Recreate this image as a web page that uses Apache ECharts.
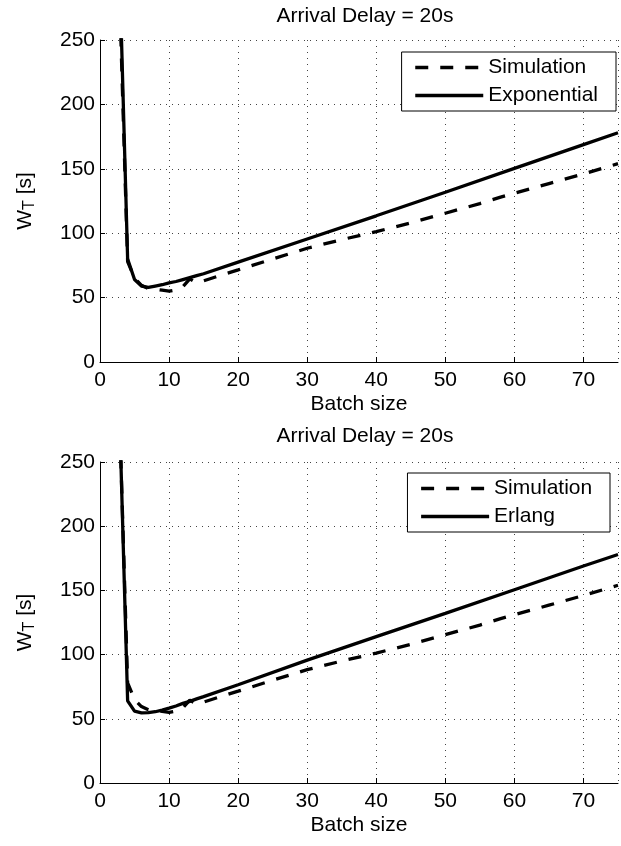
<!DOCTYPE html>
<html>
<head>
<meta charset="utf-8">
<script src="https://cdn.jsdelivr.net/npm/echarts@6/dist/echarts.min.js"></script>
<style>
  html, body { margin: 0; padding: 0; background: #fff; }
  #chart { width: 621px; height: 846px; }
</style>
</head>
<body>
<div id="chart"></div>
<script>
// simulation (same run shown in both panels)
var simBatch = [3, 4, 5, 6, 7, 8, 9, 10, 11, 12, 13, 14, 15, 17, 20, 25, 30, 35, 40, 45, 50, 55, 58, 60, 65, 70, 75];
var simValues = [255, 78, 65, 59.5, 57, 56.5, 55.8, 55, 56, 58.5, 64.5, 61.5, 63, 66.5, 71.5, 80, 88.3, 95, 101.2, 108, 115.5, 123, 128, 131, 138.5, 146, 154];

// exponential model (top)
var expBatch = [3, 4, 5, 6, 7, 8, 9, 10, 11, 12, 13, 14, 15, 20, 30, 40, 50, 60, 70, 75];
var expValues = [272, 80, 64, 59, 58, 59, 60, 61.5, 62.5, 64, 65.5, 67, 68.5, 77.5, 95.5, 113.5, 131.8, 150.3, 168.8, 178];

// erlang model (bottom)
var erlBatch = [3, 4, 5, 6, 7, 8, 9, 10, 11, 12, 13, 14, 15, 20, 30, 40, 50, 60, 70, 75];
var erlValues = [255, 64, 56, 54.6, 54.8, 55.5, 56.8, 58.3, 60, 62, 63.6, 65.5, 67.3, 76.5, 95.7, 114, 132.1, 150.5, 169, 178];

var xTicks = { min: 0, max: 75, interval: 10 };
var yTicks = { min: 0, max: 250, interval: 50 };
var titleText = 'Arrival Delay = 20s';
var xName = 'Batch size';

function pairs(xs, ys) {
  return xs.map(function (x, i) { return [x, ys[i]]; });
}

var font = "'Liberation Sans', Arial, sans-serif";
var fs = 21;
var gridLine = { show: true, lineStyle: { color: '#444', width: 1, type: [1, 5] } };

function xAxis(idx) {
  return {
    type: 'value', gridIndex: idx,
    min: xTicks.min, max: xTicks.max, interval: xTicks.interval,
    name: xName, nameLocation: 'middle', nameGap: 32,
    nameTextStyle: { color: '#000', fontSize: fs, fontFamily: font },
    axisLine: { show: true, onZero: false, lineStyle: { color: '#000', width: 1 } },
    axisTick: { show: true, inside: true, length: 5, lineStyle: { color: '#000' } },
    axisLabel: { color: '#000', fontSize: fs, fontFamily: font, margin: 8, showMaxLabel: false },
    splitLine: gridLine
  };
}

function yAxis(idx) {
  return {
    type: 'value', gridIndex: idx,
    min: yTicks.min, max: yTicks.max, interval: yTicks.interval,
    name: '{a|W}{b|T}{a| [s]}', nameLocation: 'middle', nameGap: 62,
    nameTextStyle: {
      color: '#000', fontFamily: font,
      rich: {
        a: { fontSize: fs, fontFamily: font, color: '#000' },
        b: { fontSize: 16, fontFamily: font, color: '#000', padding: [9, 0, 0, 0] }
      }
    },
    axisLine: { show: true, onZero: false, lineStyle: { color: '#000', width: 1 } },
    axisTick: { show: true, inside: true, length: 5, lineStyle: { color: '#000' } },
    axisLabel: { color: '#000', fontSize: fs, fontFamily: font, margin: 5 },
    splitLine: gridLine
  };
}

function lineSeries(name, idx, data, dashed) {
  return {
    name: name, type: 'line', xAxisIndex: idx, yAxisIndex: idx,
    data: data, showSymbol: false, symbol: 'none', clip: true,
    lineStyle: { color: '#000', width: 3.3, type: dashed ? [13, 12] : 'solid' },
    itemStyle: { color: '#000' },
    z: dashed ? 2 : 3
  };
}

function legend(idx, names, pos) {
  return {
    data: names, orient: 'vertical',
    right: pos.right, top: pos.top,
    backgroundColor: '#fff', borderColor: '#000', borderWidth: 1, borderRadius: 0,
    padding: pos.padding, itemGap: 7,
    itemWidth: 68, itemHeight: 22,
    itemStyle: { color: 'rgba(0,0,0,0)', borderWidth: 0 },
    lineStyle: { width: 3.3 },
    textStyle: { color: '#000', fontSize: fs, fontFamily: font },
    selectedMode: false
  };
}

var chart = echarts.init(document.getElementById('chart'), null, { renderer: 'canvas' });
chart.setOption({
  animation: false,
  backgroundColor: '#fff',
  title: [
    { text: titleText, left: 360, top: 1, textAlign: 'center',
      textStyle: { color: '#000', fontSize: fs, fontWeight: 'normal', fontFamily: font } },
    { text: titleText, left: 360, top: 421, textAlign: 'center',
      textStyle: { color: '#000', fontSize: fs, fontWeight: 'normal', fontFamily: font } }
  ],
  grid: [
    { left: 100, top: 40, width: 518, height: 322 },
    { left: 100, top: 462, width: 518, height: 321 }
  ],
  legend: [
    legend(0, ['Simulation', 'Exponential'], { right: 5, top: 52, padding: [5, 18, 5, 12] }),
    legend(1, ['Simulation ', 'Erlang'], { right: 11, top: 473, padding: [5, 12, 5, 12] })
  ],
  xAxis: [xAxis(0), xAxis(1)],
  yAxis: [yAxis(0), yAxis(1)],
  series: [
    lineSeries('Simulation', 0, pairs(simBatch, simValues), true),
    lineSeries('Exponential', 0, pairs(expBatch, expValues), false),
    lineSeries('Simulation ', 1, pairs(simBatch, simValues), true),
    lineSeries('Erlang', 1, pairs(erlBatch, erlValues), false)
  ]
});
</script>
</body>
</html>
